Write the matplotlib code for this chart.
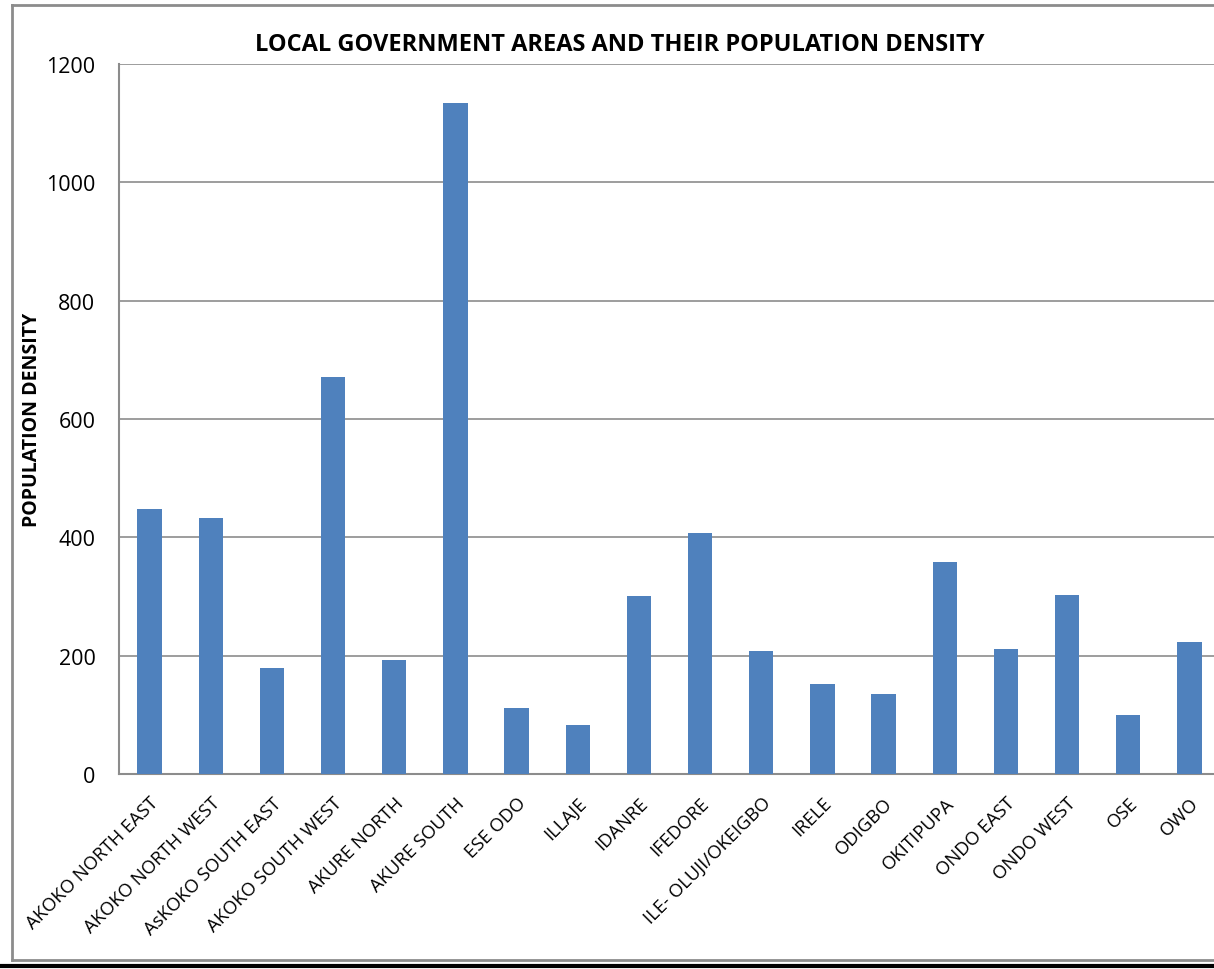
import matplotlib.pyplot as plt
from matplotlib.lines import Line2D
import numpy as np

areas = ['AKOKO NORTH EAST', 'AKOKO NORTH WEST', 'AsKOKO SOUTH EAST', 'AKOKO SOUTH WEST',
         'AKURE NORTH', 'AKURE SOUTH', 'ESE ODO', 'ILLAJE', 'IDANRE', 'IFEDORE',
         'ILE- OLUJI/OKEIGBO', 'IRELE', 'ODIGBO', 'OKITIPUPA', 'ONDO EAST', 'ONDO WEST',
         'OSE', 'OWO']
density = [448, 433, 179, 671, 193, 1134, 112, 83, 301, 407,
           208, 152, 135, 358, 211, 303, 100, 223]
yticks = [0, 200, 400, 600, 800, 1000, 1200]

plt.rcParams['font.family'] = ['Open Sans', 'DejaVu Sans']

fig = plt.figure(figsize=(12.14, 9.70), dpi=100)
W, H = 1214, 970

# outer chart frame (runs off the right edge) and the black rule under it
def fline(xs, ys, **kw):
    fig.lines.append(Line2D([v / W for v in xs], [1 - v / H for v in ys],
                            transform=fig.transFigure, **kw))

fline([12, 1230], [6, 6], color='#8c8c8c', linewidth=2)
fline([12, 12], [6, 961], color='#8c8c8c', linewidth=2)
fline([12, 1230], [961, 961], color='#8c8c8c', linewidth=2)
fline([0, 1230], [967, 967], color='black', linewidth=3)

ax = fig.add_axes([119 / W, 1 - 775 / H, (1220 - 119) / W, (775 - 65) / H])
x = np.arange(len(areas))
ax.bar(x, density, width=0.4, color='#4f81bd', zorder=3)

ax.set_xlim(-0.5, len(areas) - 0.5)
ax.set_ylim(0, 1200)
ax.set_yticks(yticks)
ax.set_yticklabels([str(v) for v in yticks], fontsize=15.5)
ax.yaxis.grid(True, color='#8c8c8c', linewidth=1.2, zorder=0)
ax.tick_params(axis='y', length=0, pad=17)

ax.set_xticks(x)
ax.set_xticklabels(areas, rotation=45, ha='right', rotation_mode='anchor', fontsize=13.3)
ax.tick_params(axis='x', length=0, pad=14)

for s in ['top', 'right']:
    ax.spines[s].set_visible(False)
for s in ['left', 'bottom']:
    ax.spines[s].set_color('#8c8c8c')
    ax.spines[s].set_linewidth(1.5)

ax.set_ylabel('POPULATION DENSITY', fontsize=14, fontweight='bold')
ax.yaxis.set_label_coords((42 - 119) / 1101, (775 - 420) / 710)
fig.text(620 / W, 1 - 45 / H, 'LOCAL GOVERNMENT AREAS AND THEIR POPULATION DENSITY',
         ha='center', va='center', fontsize=17, fontweight='bold')

fig.savefig('out.png', dpi=100)
